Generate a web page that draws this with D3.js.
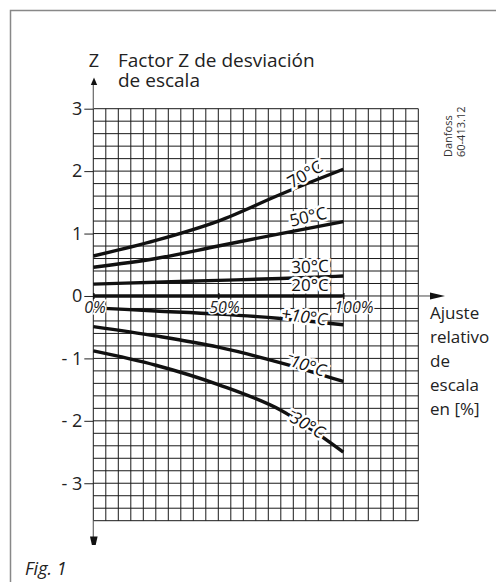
<!DOCTYPE html>
<html>
<head>
<meta charset="utf-8">
<script src="https://cdn.jsdelivr.net/npm/d3@7"></script>
<style>
body { margin: 0; background: #fff; }
svg { display: block; font-family: 'Open Sans', sans-serif; }
</style>
</head>
<body>
<svg width="496" height="582"></svg>
<script>
// values: x = scale setting in %, Z = deviation factor
var pct = [0, 25, 50, 75, 100];
var temps = ["70°C", "50°C", "30°C", "20°C", "+10°C", "\u207B10°C", "\u207B30°C"];
var z70 = [0.64, 0.89, 1.20, 1.63, 2.03];
var z50 = [0.46, 0.60, 0.80, 1.00, 1.19];
var z30 = [0.19, 0.22, 0.25, 0.28, 0.32];
var z20 = [0, 0, 0, 0, 0];
var zp10 = [-0.19, -0.24, -0.29, -0.36, -0.46];
var zm10 = [-0.49, -0.64, -0.82, -1.07, -1.37];
var zm30 = [-0.88, -1.11, -1.42, -1.83, -2.50];
var yTicks = [-3, -2, -1, 0, 1, 2, 3];
var xTicks = [0, 50, 100];

var svg = d3.select("svg");

// outer frame (only top + left are inside the picture)
svg.append("path")
  .attr("d", "M496,10.5H10.5V582")
  .attr("fill", "none").attr("stroke", "#888").attr("stroke-width", 1.5);

var x = d3.scaleLinear().domain([0, 130]).range([93.3, 418.3]);
var y = d3.scaleLinear().domain([-3.6, 3]).range([520.7, 108.7]);

// grid: 5% by 0.2
var grid = svg.append("g").attr("stroke", "#1a1a1a").attr("stroke-width", 1);
d3.range(0, 131, 5).forEach(function (v) {
  grid.append("line").attr("x1", x(v)).attr("x2", x(v)).attr("y1", y(3)).attr("y2", y(-3.6));
});
d3.range(-18, 16).forEach(function (i) {
  var v = i / 5;
  grid.append("line").attr("x1", x(0)).attr("x2", x(130)).attr("y1", y(v)).attr("y2", y(v));
});

// y axis stubs + arrows
svg.append("line").attr("x1", x(0)).attr("x2", x(0)).attr("y1", 84).attr("y2", y(3))
  .attr("stroke", "#666").attr("stroke-width", 1.2);
svg.append("line").attr("x1", x(0)).attr("x2", x(0)).attr("y1", y(-3.6)).attr("y2", 537)
  .attr("stroke", "#666").attr("stroke-width", 1.2);
svg.append("path").attr("d", "M94,77.5L97.2,85H90.8Z").attr("fill", "#111");
svg.append("path").attr("d", "M90,536.5H97.6L95.7,545H91.9Z").attr("fill", "#111");

// x axis stub + arrow
svg.append("line").attr("x1", x(130)).attr("x2", 431).attr("y1", y(0)).attr("y2", y(0))
  .attr("stroke", "#666").attr("stroke-width", 1.2);
svg.append("path").attr("d", "M445,296L430,292.5V299.5Z").attr("fill", "#111");

var yAxis = d3.axisLeft(y).tickValues(yTicks).tickSize(9).tickPadding(2)
  .tickFormat(function (d) { return d < 0 ? "- " + (-d) : d; });
var gy = svg.append("g").attr("transform", "translate(" + x(0) + ",0)").call(yAxis);
gy.select(".domain").remove();
gy.selectAll("line").attr("stroke", "#222").attr("stroke-width", 1);
gy.selectAll("text").attr("font-size", 18).attr("fill", "#222")
  .attr("font-family", "'Open Sans', sans-serif");

// curves
var series = [z70, z50, z30, z20, zp10, zm10, zm30];
var line = d3.line()
  .x(function (d, i) { return x(pct[i]); })
  .y(function (d) { return y(d); })
  .curve(d3.curveMonotoneX);
svg.append("g").selectAll("path").data(series).join("path")
  .attr("d", line)
  .attr("fill", "none").attr("stroke", "#111").attr("stroke-width", 3.4);

// x tick marks on the zero line
var xAxis = d3.axisBottom(x).tickValues(xTicks).tickSize(3).tickFormat("");
var gx = svg.append("g").attr("transform", "translate(0," + y(0) + ")").call(xAxis);
gx.select(".domain").remove();
gx.selectAll("line").attr("stroke", "#111").attr("stroke-width", 1.5).attr("y1", -3);

// x tick labels
svg.append("g").selectAll("text").data(xTicks).join("text")
  .attr("x", function (d) { return x(d) - 9; })
  .attr("y", 313)
  .attr("font-size", 16).attr("font-style", "italic").attr("fill", "#222")
  .attr("stroke", "#fff").attr("stroke-width", 3).attr("paint-order", "stroke")
  .text(function (d) { return d + "%"; });

// curve labels, placed in data units
var labPos = [[84.7, 1.95, -30], [85.9, 1.27, -13], [86.7, 0.47, -2], [86.7, 0.17, 0],
              [84.3, -0.33, 8], [84.7, -1.10, 18], [84.7, -2.04, 30]];
svg.append("g").selectAll("text").data(temps).join("text")
  .attr("transform", function (d, i) {
    var p = labPos[i];
    return "translate(" + x(p[0]) + "," + y(p[1]) + ") rotate(" + p[2] + ")";
  })
  .attr("text-anchor", "middle").attr("dy", "0.35em")
  .attr("font-size", 17).attr("fill", "#111")
  .attr("font-style", function (d, i) { return i > 3 ? "italic" : null; })
  .attr("stroke", "#fff").attr("stroke-width", 5).attr("paint-order", "stroke")
  .text(function (d) { return d; });

// titles
svg.append("text").attr("x", 94).attr("y", 67).attr("text-anchor", "middle")
  .attr("font-size", 18).attr("fill", "#222").text("Z");
svg.append("text").attr("x", 118).attr("y", 67).attr("font-size", 19).attr("fill", "#222")
  .text("Factor Z de desviación");
svg.append("text").attr("x", 118).attr("y", 87).attr("font-size", 19).attr("fill", "#222")
  .text("de escala");

var xt = svg.append("text").attr("x", 430).attr("y", 319).attr("font-size", 17).attr("fill", "#222");
["Ajuste", "relativo", "de", "escala", "en [%]"].forEach(function (s, i) {
  xt.append("tspan").attr("x", 430).attr("dy", i ? 24 : 0).text(s);
});

svg.append("text").attr("transform", "translate(452,157) rotate(-90)")
  .attr("font-size", 11).attr("fill", "#333").text("Danfoss");
svg.append("text").attr("transform", "translate(465,157) rotate(-90)")
  .attr("font-size", 11).attr("fill", "#333").text("60-413.12");

svg.append("text").attr("x", 25).attr("y", 575).attr("font-size", 18)
  .attr("font-style", "italic").attr("fill", "#222").text("Fig. 1");
</script>
</body>
</html>
